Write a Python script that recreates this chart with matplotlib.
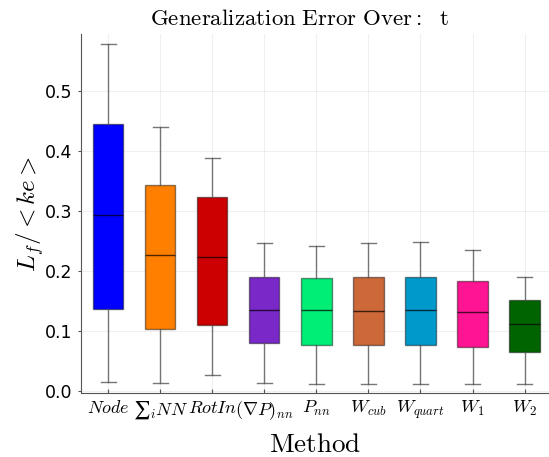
import matplotlib.pyplot as plt

plt.rcParams['mathtext.fontset'] = 'cm'

# Box statistics per method
methods = [r'$Node$', r'$∑_i NN$', r'$RotIn$', r'$(\nabla P)_{nn}$', r'$P_{nn}$',
           r'$W_{cub}$', r'$W_{quart}$', r'$W_1$', r'$W_2$']
whislo = [0.0145, 0.0128, 0.0257, 0.0123, 0.0107, 0.0107, 0.0107, 0.0107, 0.0107]
q1 = [0.136, 0.103, 0.110, 0.0795, 0.0767, 0.0767, 0.0767, 0.0723, 0.064]
med = [0.293, 0.226, 0.2233, 0.1345, 0.1345, 0.1333, 0.1345, 0.1307, 0.1107]
q3 = [0.445, 0.343, 0.323, 0.1895, 0.187, 0.189, 0.189, 0.1823, 0.1507]
whishi = [0.577, 0.4395, 0.388, 0.2457, 0.2412, 0.2457, 0.2485, 0.234, 0.189]
colors = ['#0000FF', '#FF8000', '#CC0000', '#7A28C8', '#00EE76',
          '#CD6839', '#0099CC', '#FF1493', '#006400']

stats = []
for i in range(len(methods)):
    stats.append(dict(whislo=whislo[i], q1=q1[i], med=med[i], q3=q3[i],
                      whishi=whishi[i], fliers=[]))

fig = plt.figure(figsize=(5.49, 4.57), dpi=100)
ax = fig.add_axes([0.147, 0.139, 0.853, 0.787])

pos = list(range(1, len(methods) + 1))
bp = ax.bxp(stats, positions=pos, widths=0.58, patch_artist=True, showfliers=False,
            boxprops=dict(linewidth=1.0),
            whiskerprops=dict(color='#555555', linewidth=1.0, alpha=0.8),
            capprops=dict(color='#555555', linewidth=1.0, alpha=0.8),
            medianprops=dict(color='black', linewidth=1.0, alpha=0.7))
for patch, c in zip(bp['boxes'], colors):
    patch.set_facecolor(c)
    patch.set_edgecolor((0, 0, 0, 0.45))

ax.set_xlim(0.47, 9.47)
ax.set_ylim(-0.0045, 0.5945)
ax.set_yticks([0.0, 0.1, 0.2, 0.3, 0.4, 0.5])
ax.set_yticklabels(['0.0', '0.1', '0.2', '0.3', '0.4', '0.5'], fontsize=12.5)
ax.set_xticks(pos)
ax.set_xticklabels(methods, fontsize=13)
ax.tick_params(axis='both', direction='in', length=3, color='#555555', pad=4)
ax.tick_params(axis='y', direction='out', length=2)

for s in ['top', 'right']:
    ax.spines[s].set_visible(False)
for s in ['left', 'bottom']:
    ax.spines[s].set_color('#555555')
    ax.spines[s].set_linewidth(0.8)

ax.grid(True, color='#000000', alpha=0.06, linewidth=0.8)
ax.set_axisbelow(True)

ax.set_title(r'$\mathrm{Generalization\ Error\ Over:\ \ t}$', fontsize=16.5, pad=6, x=0.468)
ax.set_xlabel(r'$\mathrm{Method}$', fontsize=19.5, va='center')
ax.xaxis.set_label_coords(0.5, -0.142)
ax.set_ylabel(r'$L_f/<ke>$', fontsize=18, va='center')
ax.yaxis.set_label_coords(-0.108, 0.5)

plt.savefig('out.png', dpi=100)
